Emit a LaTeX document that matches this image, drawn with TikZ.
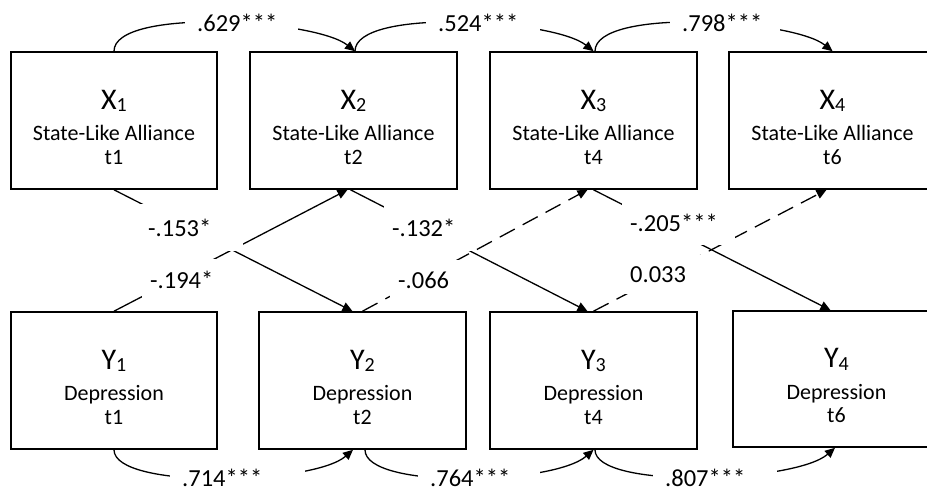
\documentclass[tikz,border=0pt]{standalone}
\usepackage{fontspec}
\setmainfont{Carlito}
\usetikzlibrary{arrows.meta}
\newcommand\mkvar[2]{{\fontsize{30}{30}\selectfont\rule{0pt}{32.5pt}#1\raisebox{-2.5pt}{\fontsize{20}{20}\selectfont #2}}}
\begin{document}
\begin{tikzpicture}[x=1pt,y=-1pt,
  varbox/.style={draw, line width=1.6pt, minimum width=206.5pt, minimum height=137pt, inner sep=0pt, align=center, font=\fontsize{22}{23.3}\selectfont},
  conn/.style={line width=1.3pt, -{Triangle[length=10pt,width=9pt]}},
  dconn/.style={conn, dash pattern=on 17pt off 9pt},
  lbl/.style={fill=white, anchor=west, align=left, inner xsep=12pt, inner ysep=0pt, minimum height=20pt, font=\fontsize{24.5}{26}\selectfont},
  dlbl/.style={lbl, inner xsep=8pt}]
\useasboundingbox (0,0) rectangle (927,492);
\clip (0,0) rectangle (927,492);
% boxes
\node[varbox] (X1) at (114,120.5) {\mkvar{X}{1}\\[8.2pt]State-Like Alliance\\t1};
\node[varbox] (X2) at (353.5,120.5) {\mkvar{X}{2}\\[8.2pt]State-Like Alliance\\t2};
\node[varbox] (X3) at (593.5,120.5) {\mkvar{X}{3}\\[8.2pt]State-Like Alliance\\t4};
\node[varbox] (X4) at (832.5,120.5) {\mkvar{X}{4}\\[8.2pt]State-Like Alliance\\t6};
\node[varbox] (Y1) at (114,380.5) {\mkvar{Y}{1}\\[8.2pt]Depression\\t1};
\node[varbox] (Y2) at (362.5,380.5) {\mkvar{Y}{2}\\[8.2pt]Depression\\t2};
\node[varbox] (Y3) at (593.5,380.5) {\mkvar{Y}{3}\\[8.2pt]Depression\\t4};
\node[varbox, minimum height=136pt] (Y4) at (836.5,379) {\mkvar{Y}{4}\\[8.2pt]Depression\\t6};
% autoregressive paths
\draw[conn] (X1.north) .. controls +(0,-44) and +(-40,-32) .. ([xshift=1.5pt]X2.north);
\draw[conn] ([xshift=1.5pt]X2.north) .. controls +(0,-44) and +(-40,-32) .. (X3.north);
\draw[conn] ([xshift=1.5pt]X3.north) .. controls +(0,-44) and +(-40,-32) .. (X4.north);
\draw[conn] (Y1.south) .. controls +(0,40) and +(-40,35) .. ([xshift=-9.5pt]Y2.south);
\draw[conn] ([xshift=2.5pt]Y2.south) .. controls +(0,40) and +(-40,35) .. (Y3.south);
\draw[conn] ([xshift=1.5pt]Y3.south) .. controls +(0,40) and +(-40,35) .. ([xshift=-1.5pt]Y4.south);
% cross-lagged paths
\draw[conn] (X1.south) -- ([xshift=-10pt]Y2.north);
\draw[conn] (Y1.north) -- ([xshift=-6pt]X2.south);
\draw[conn] ([xshift=-3pt]X2.south) -- ([xshift=-6pt]Y3.north);
\draw[dconn] (Y2.north) -- ([xshift=-6pt]X3.south);
\draw[conn] (X3.south) -- ([xshift=-6pt]Y4.north);
\draw[dconn] (Y3.north) -- ([xshift=-6pt]X4.south);
% labels
\node[lbl, text width=89pt] (t1) at (185,22.5) {.629***};
\node[lbl, text width=90pt] (t2) at (426,22.5) {.524***};
\node[lbl, text width=86pt] (t3) at (670,22.5) {.798***};
\node[lbl, text width=111pt] (b1) at (170,478) {.714***};
\node[lbl, text width=98pt] (b2) at (418,478) {.764***};
\node[lbl, text width=100pt] (b3) at (653,477.5) {.807***};
\node[dlbl, text width=87pt, minimum height=47pt] (l1) at (140,227.5) {-.153*};
\node[dlbl, text width=87pt, minimum height=41pt] (l2) at (142,279.5) {-.194*};
\node[dlbl, text width=76pt, minimum height=47pt] (l3) at (384,227.5) {-.132*};
\node[dlbl, text width=75pt, minimum height=41pt] (l4) at (390,280.5) {-.066};
\node[dlbl, text width=97pt, minimum height=45pt] (l5) at (622,222.5) {-.205***};
\node[dlbl, text width=72pt, minimum height=39pt] (l6) at (622,274.5) {0.033};
\end{tikzpicture}
\end{document}
